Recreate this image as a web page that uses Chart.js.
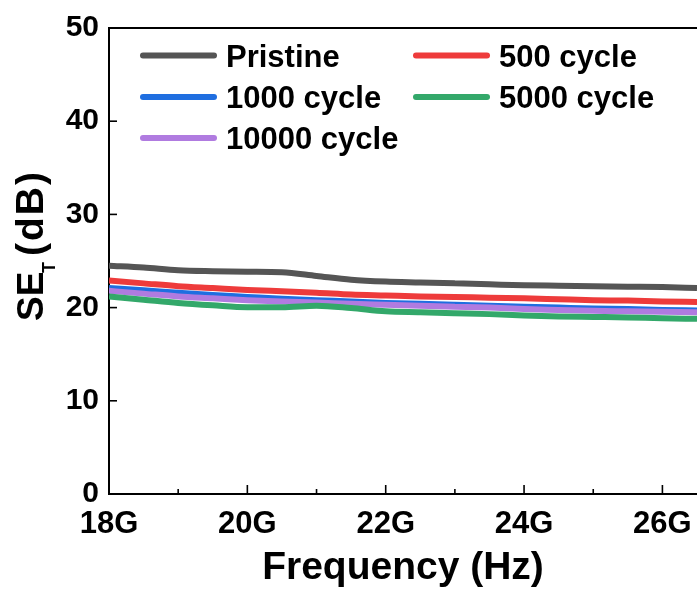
<!DOCTYPE html>
<html><head><meta charset="utf-8">
<script src="https://cdn.jsdelivr.net/npm/chart.js@4/dist/chart.umd.min.js"></script>
<style>html,body{margin:0;padding:0;background:#fff;overflow:hidden}
#wrap{width:697px;height:592px;position:relative}</style>
</head><body><div id="wrap"><canvas id="c" width="697" height="592"></canvas></div>
<script>
// ---- data (frequency in GHz, SE_T in dB) ----
const frequencyG = [18,18.5,19,19.5,20,20.5,21,21.5,22,22.5,23,23.5,24,24.5,25,25.5,26,26.5];
const pristine   = [24.5,24.3,24.0,23.9,23.85,23.8,23.4,23.0,22.8,22.7,22.6,22.5,22.4,22.35,22.3,22.25,22.2,22.1];
const cycle500   = [22.9,22.6,22.3,22.1,21.9,21.75,21.6,21.4,21.3,21.2,21.15,21.05,21.0,20.9,20.8,20.75,20.65,20.6];
const cycle1000  = [22.1,21.85,21.6,21.35,21.15,20.95,20.8,20.65,20.5,20.4,20.3,20.2,20.1,20.0,19.9,19.85,19.75,19.7];
const cycle5000  = [21.2,20.85,20.5,20.25,20.05,20.05,20.2,19.95,19.6,19.5,19.4,19.3,19.15,19.05,19.0,18.95,18.85,18.8];
const cycle10000 = [21.8,21.5,21.2,21.0,20.8,20.65,20.55,20.4,20.3,20.2,20.1,20.0,19.85,19.75,19.65,19.6,19.55,19.5];
const seriesLabels = ['Pristine','500 cycle','1000 cycle','5000 cycle','10000 cycle'];
const xTickSteps = [18,19,20,21,22,23,24,25,26];
const xMajorTicks = [18,20,22,24,26];
const yTickValues = [0,10,20,30,40,50];

const colors = ['#555555','#ee3b3b','#1f6ee0','#33a86a','#b07be0'];
const seriesValues = [pristine, cycle500, cycle1000, cycle5000, cycle10000];
const FONT = '"Liberation Sans", Arial, Helvetica, sans-serif';

const datasets = seriesValues.map((vals,i)=>({
  label: seriesLabels[i],
  data: frequencyG.map((f,j)=>({x:f,y:vals[j]})),
  borderColor: colors[i],
  backgroundColor: colors[i],
  borderWidth: 6,
  pointRadius: 0,
  fill: false,
  cubicInterpolationMode: 'monotone'
}));
const drawOrder = [0,1,2,4,3];
drawOrder.forEach((idx,k)=>{ datasets[idx].order = 5-k; });

const frameTicks = {
  id:'frameTicks',
  afterDraw(chart){
    const {ctx, chartArea:a, scales:{x,y}} = chart;
    ctx.save();
    ctx.strokeStyle='#000';
    ctx.lineWidth=2;
    ctx.beginPath(); ctx.moveTo(a.left-1, a.top); ctx.lineTo(a.right+10, a.top); ctx.stroke();
    ctx.lineWidth=1.6;
    x.ticks.forEach(t=>{
      const px = x.getPixelForValue(t.value);
      if (px <= a.left+2 || px >= a.right-1) return;
      const len = xMajorTicks.includes(t.value) ? 9 : 5;
      ctx.beginPath(); ctx.moveTo(px, a.bottom); ctx.lineTo(px, a.bottom-len); ctx.stroke();
    });
    y.ticks.forEach(t=>{
      if (t.value===0 || t.value===50) return;
      const py = y.getPixelForValue(t.value);
      ctx.beginPath(); ctx.moveTo(a.left, py); ctx.lineTo(a.left+8, py); ctx.stroke();
    });
    ctx.restore();
  }
};

const legendPos = [[140,55.5],[413,55.5],[140,97],[413,97],[140,138]];
const insideLegend = {
  id:'insideLegend',
  afterDraw(chart){
    const ctx = chart.ctx;
    ctx.save();
    chart.data.datasets.forEach((ds,i)=>{
      const [lx,ly] = legendPos[i];
      ctx.strokeStyle = ds.borderColor; ctx.lineWidth = 6; ctx.lineCap='round';
      ctx.beginPath(); ctx.moveTo(lx+3, ly); ctx.lineTo(lx+74, ly); ctx.stroke();
      ctx.fillStyle='#000';
      ctx.font = 'bold 31px '+FONT;
      ctx.textAlign='left'; ctx.textBaseline='alphabetic';
      ctx.fillText(ds.label, lx+86, ly+11);
    });
    ctx.restore();
  }
};

const axisTitles = {
  id:'axisTitles',
  afterDraw(chart){
    const ctx = chart.ctx;
    ctx.save();
    ctx.fillStyle='#000';
    ctx.textBaseline='alphabetic';
    ctx.font='bold 39px '+FONT;
    ctx.textAlign='center';
    ctx.fillText('Frequency (Hz)', 403, 579);
    ctx.translate(43, 0);
    ctx.rotate(-Math.PI/2);
    ctx.textAlign='left';
    ctx.font='bold 37px '+FONT;
    ctx.fillText('SE', -321, 0);
    ctx.font='bold 18px '+FONT;
    ctx.fillText('T', -273, 12);
    ctx.font='bold 39px '+FONT;
    ctx.letterSpacing = '2px';
    ctx.fillText('(dB)', -256, 0);
    ctx.restore();
  }
};

new Chart(document.getElementById('c'), {
  type:'line',
  data:{ datasets },
  options:{
    responsive:false,
    animation:false,
    events:[],
    layout:{ padding:{ top:20, left:0, right:0, bottom:0 } },
    plugins:{ legend:{display:false}, tooltip:{enabled:false} },
    scales:{
      x:{
        type:'linear', min:18, max:26.5,
        grid:{ display:false, drawTicks:false },
        border:{ display:true, color:'#000', width:2 },
        afterBuildTicks:(s)=>{ s.ticks = xTickSteps.map(v=>({value:v})); },
        ticks:{
          autoSkip:false, maxRotation:0,
          color:'#000', padding:12,
          font:{ family:FONT, weight:'bold', size:31 },
          callback:(v)=> xMajorTicks.includes(v) ? v+'G' : ''
        },
        afterFit:(s)=>{ s.height = 98; s.paddingRight = 0; s.paddingLeft = 0; }
      },
      y:{
        min:0, max:50,
        grid:{ display:false, drawTicks:false },
        border:{ display:true, color:'#000', width:2 },
        ticks:{
          stepSize:10, color:'#000', padding:10,
          font:{ family:FONT, weight:'bold', size:30 },
          callback:(v)=> yTickValues.includes(v) ? String(v) : ''
        },
        afterFit:(s)=>{ s.width = 109; }
      }
    }
  },
  plugins:[frameTicks, insideLegend, axisTitles]
});
</script></body></html>
